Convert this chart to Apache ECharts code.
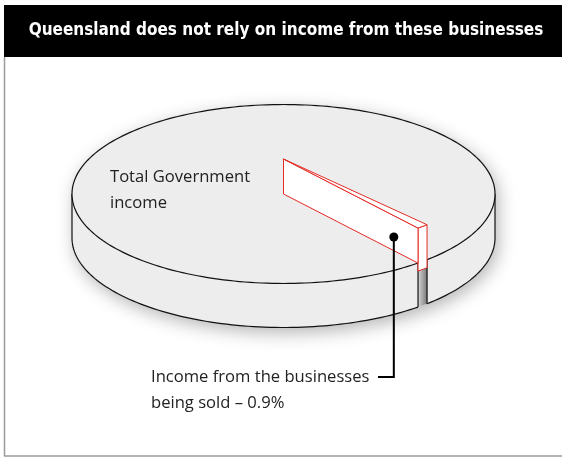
<!DOCTYPE html>
<html>
<head>
<meta charset="utf-8">
<script src="https://cdn.jsdelivr.net/npm/echarts@6.0.0/dist/echarts.min.js"></script>
<style>html,body{margin:0;padding:0;background:#fff;}#chart{width:562px;height:459px;}</style>
</head>
<body>
<div id="chart"></div>
<script>
// ---- data ----
const titleText = 'Queensland does not rely on income from these businesses';
const categories = ['Total Government income', 'Income from the businesses being sold'];
const shares = [99.1, 0.9];
const labelTexts = ['Total Government\nincome', 'Income from the businesses\nbeing sold – ' + shares[1] + '%'];

// ---- layout ----
const CX = 283.5, CY = 194, RX = 211.5, RY = 89.5, DEPTH = 44, SLICE_H = 35, START = 50.5;
const SIDE = '#ecedec', TOP = '#ecedec', RED = '#e62a24';

function P(r, deg, z) {
  const t = deg * Math.PI / 180;
  return [CX + RX * r * Math.cos(t), CY + RY * r * Math.sin(t) - z];
}
function arc(r, a0, a1, z) {
  const n = Math.max(2, Math.ceil(Math.abs(a1 - a0) / 1.5));
  const pts = [];
  for (let i = 0; i <= n; i++) pts.push(P(r, a0 + (a1 - a0) * i / n, z));
  return pts;
}
const total = shares.reduce((a, b) => a + b, 0);
function angles(i) {
  let s = START;
  for (let k = 0; k < i; k++) s += shares[k] / total * 360;
  return [s, s + shares[i] / total * 360];
}

function renderItem(params, api) {
  const i = params.dataIndex;
  const [a0, a1] = angles(i);
  const children = [];
  const labelFont = { fill: '#222', fontSize: 16.6, fontFamily: '"Open Sans"', align: 'left', verticalAlign: 'top', lineHeight: 26 };
  if (i === 0) {
    const g0 = a1 - 360, g1 = a0;
    const sil = arc(1, 180, 360, 0).concat(arc(1, 0, 180, -DEPTH));
    children.push({ type: 'polygon', shape: { points: sil }, style: { fill: SIDE, shadowBlur: 18, shadowColor: 'rgba(0,0,0,0.3)', shadowOffsetX: 3, shadowOffsetY: 5 } });
    [[0, g0], [g1, 180]].forEach(([s, e]) => {
      const pts = arc(1, s, e, 0).concat(arc(1, e, s, -DEPTH));
      children.push({ type: 'polygon', shape: { points: pts }, style: { fill: SIDE } });
      children.push({ type: 'polyline', shape: { points: arc(1, s, e, -DEPTH) }, style: { stroke: '#111', lineWidth: 1.2, fill: null } });
    });
    const notch = arc(1, g0, g1, 0).concat(arc(1, g1, g0, -DEPTH));
    children.push({ type: 'polygon', shape: { points: notch }, style: { fill: new echarts.graphic.LinearGradient(0, 0, 1, 0, [{ offset: 0, color: '#d6d6d6' }, { offset: 1, color: '#7a7a7a' }]) } });
    [0, 180, g0, g1].forEach(a => {
      const p1 = P(1, a, 0), p2 = P(1, a, -DEPTH);
      children.push({ type: 'line', shape: { x1: p1[0], y1: p1[1], x2: p2[0], y2: p2[1] }, style: { stroke: '#111', lineWidth: 1.2 } });
    });
    children.push({ type: 'polygon', shape: { points: arc(1, 0, 360, 0) }, style: { fill: TOP, stroke: '#111', lineWidth: 1.2 } });
    children.push({ type: 'text', x: 110, y: 164, style: Object.assign({ text: labelTexts[0] }, labelFont) });
  } else {
    const H = SLICE_H;
    const slStyle = { fill: '#fff', stroke: RED, lineWidth: 1, lineJoin: 'round' };
    children.push({ type: 'polygon', shape: { points: arc(1, a0, a1, H).concat(arc(1, a1, a0, -8)) }, style: slStyle });
    children.push({ type: 'polygon', shape: { points: [P(0, a1, 0), P(1, a1, 0), P(1, a1, H), P(0, a1, H)] }, style: slStyle });
    children.push({ type: 'polygon', shape: { points: [P(0, a0, H)].concat(arc(1, a0, a1, H)) }, style: slStyle });
    const d = P(0.82, a1, H * 0.39);
    const ly = 377, lx = 378;
    children.push({ type: 'polyline', shape: { points: [d, [d[0], ly], [lx, ly]] }, style: { stroke: '#000', lineWidth: 2, fill: null } });
    children.push({ type: 'circle', shape: { cx: d[0], cy: d[1], r: 4.5 }, style: { fill: '#000' } });
    children.push({ type: 'text', x: 151, y: 364, style: Object.assign({ text: labelTexts[1] }, labelFont) });
  }
  return { type: 'group', children };
}

const chart = echarts.init(document.getElementById('chart'), null, { renderer: 'canvas' });
chart.setOption({
  animation: false,
  backgroundColor: '#fff',
  graphic: [
    { type: 'rect', shape: { x: 4, y: 5, width: 558, height: 52 }, style: { fill: '#000' } },
    { type: 'text', x: 286, y: 31, style: { text: titleText, fill: '#fff', fontSize: 17, fontWeight: 'bold', fontFamily: '"DejaVu Sans Condensed", "DejaVu Sans"', align: 'center', verticalAlign: 'middle' } },
    { type: 'line', shape: { x1: 4.5, y1: 57, x2: 4.5, y2: 456 }, style: { stroke: '#9a9a9a', lineWidth: 1.5 } },
    { type: 'line', shape: { x1: 4, y1: 456, x2: 562, y2: 456 }, style: { stroke: '#9a9a9a', lineWidth: 1.5 } }
  ],
  series: [{
    type: 'custom',
    coordinateSystem: 'none',
    renderItem: renderItem,
    data: categories.map((c, k) => ({ name: c, value: shares[k] }))
  }]
});
</script>
</body>
</html>
